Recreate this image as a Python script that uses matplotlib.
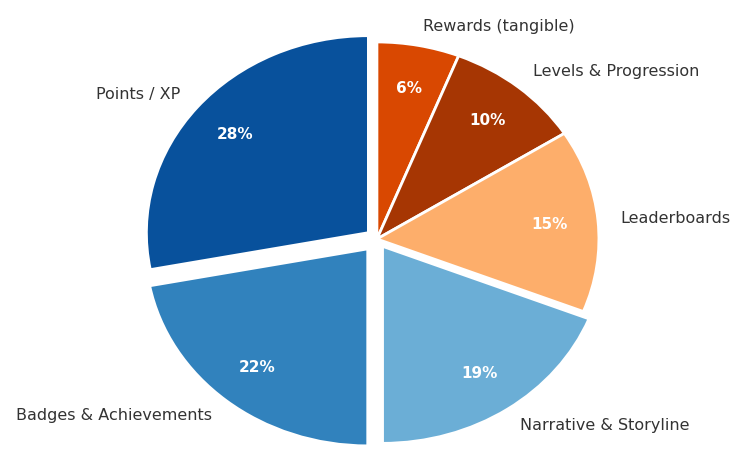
import matplotlib.pyplot as plt

labels = ['Rewards (tangible)', 'Levels & Progression', 'Leaderboards',
          'Narrative & Storyline', 'Badges & Achievements', 'Points / XP']
shares = [6, 10, 15, 19, 22, 28]
colors = ['#d94801', '#a63603', '#fdae6b', '#6baed6', '#3182bd', '#08519c']
explode = [0, 0, 0, 0.045, 0.065, 0.05]

fig = plt.figure(figsize=(7.37, 4.5), dpi=100)
ax = fig.add_axes([0, 0, 1, 1])

wedges, texts, autotexts = ax.pie(
    shares,
    labels=labels,
    colors=colors,
    explode=explode,
    startangle=90,
    counterclock=False,
    autopct='%1.0f%%',
    pctdistance=0.78,
    labeldistance=1.1,
    wedgeprops=dict(edgecolor='white', linewidth=2),
    textprops=dict(fontsize=11.5, color='#333333'),
)
for t in autotexts:
    t.set_color('white')
    t.set_fontweight('bold')
    t.set_fontsize(11)

# pie forces an equal aspect; let the disc follow the axes box instead
ax.set_aspect('auto')
ax.set_xlim(-1.698, 1.622)
ax.set_ylim(-1.071, 1.213)
ax.axis('off')

fig.savefig('out.png', dpi=100)
